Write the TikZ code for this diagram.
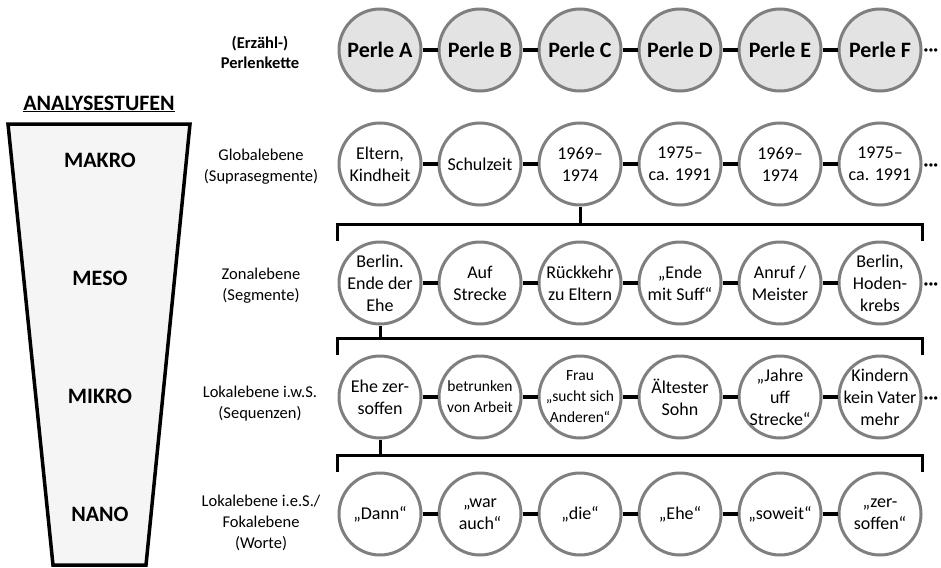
\documentclass[tikz,border=0pt]{standalone}
\usepackage{fontspec}
\setmainfont{Carlito}
\definecolor{perlrand}{HTML}{7F7F7F}
\definecolor{perlfill}{HTML}{E3E3E3}
\definecolor{trichter}{HTML}{F5F5F5}

\begin{document}
\begin{tikzpicture}[x=1pt, y=1pt,
	every node/.style = {align=center, font=\fontsize{18}{22}\selectfont},
	perle/.style = {draw=perlrand, line width=3pt, circle, minimum size=82pt, inner sep=-14pt, fill=white},
	klein/.style = {font=\fontsize{15.5}{21}\selectfont},
	kette/.style = {line width=4.5pt},
	klammer/.style = {line width=3pt},
	stufe/.style = {font=\fontsize{22}{26}\selectfont\bfseries},
	ebene/.style = {font=\fontsize{16.5}{21}\selectfont},
	weiter/.style = {anchor=base west, inner sep=1pt, yshift=-6pt, font=\fontsize{18}{20}\selectfont\bfseries}
]
\useasboundingbox (0,0) rectangle (941,-567);

\draw [line width=3.5pt, fill=trichter] (8,-124) -- (190,-124) -- (146,-565) -- (53,-565) -- cycle;
\node [stufe] (analyse) at (99,-104) {\underline{ANALYSESTUFEN}};
\node [stufe] (makro) at (100,-160) {MAKRO};
\node [stufe] (meso) at (100,-278) {MESO};
\node [stufe] (mikro) at (100,-396) {MIKRO};
\node [stufe] (nano) at (100,-514) {NANO};

\node [ebene, font=\fontsize{16.5}{20}\selectfont\bfseries] (erz) at (260,-52) {(Erzähl-)\\Perlenkette};
\node [ebene] (global) at (261,-167) {Globalebene\\(Suprasegmente)};
\node [ebene] (zonal) at (261,-286) {Zonalebene\\(Segmente)};
\node [ebene] (lokal) at (260,-404) {Lokalebene i.w.S.\\(Sequenzen)};
\node [ebene] (fokal) at (261,-523) {Lokalebene i.e.S./\\Fokalebene\\(Worte)};

\foreach \t [count=\i] in {A,B,C,D,E,F}
	\node [perle, fill=perlfill, font=\fontsize{22}{26}\selectfont\bfseries] (p\i) at (280+100*\i,-50) {Perle \t};

\foreach \t [count=\i] in {{Eltern,\\Kindheit}, Schulzeit, 1969–\\1974, 1975–\\ca. 1991, 1969–\\1974, 1975–\\ca. 1991}
	\node [perle] (g\i) at (280+100*\i,-164) {\t};

\foreach \t [count=\i] in {Berlin.\\Ende der\\Ehe, Auf\\Strecke, Rückkehr\\zu Eltern, „Ende\\mit Suff“, Anruf /\\Meister, {Berlin,\\Hoden-\\krebs}}
	\node [perle] (z\i) at (280+100*\i,-283) {\t};

\node [perle] (s1) at (380,-397) {Ehe zer-\\soffen};
\node [perle, klein] (s2) at (480,-397) {betrunken\\von Arbeit};
\node [perle, klein] (s3) at (580,-397) {Frau\\„sucht sich\\Anderen“};
\node [perle] (s4) at (680,-397) {Ältester\\Sohn};
\node [perle] (s5) at (780,-397) {„Jahre\\uff\\Strecke“};
\node [perle] (s6) at (880,-397) {Kindern\\kein Vater\\mehr};

\foreach \t [count=\i] in {„Dann“, „war\\auch“, „die“, „Ehe“, „soweit“, „zer-\\soffen“}
	\node [perle] (w\i) at (280+100*\i,-514) {\t};

\foreach \r in {p,g,z,s,w}
	\foreach \i [count=\j from 2] in {1,...,5}
		\draw [kette] (\r\i) -- (\r\j);
\foreach \r in {p,g,z,s}
	\node [weiter] (d\r) at (\r6.east) {···};

\draw [klammer] (z1.west |- z1.north) -- ++(0,16) coordinate (k1) -| (z6.east |- z6.north);
\draw [klammer] (g3.south) -- (g3.south |- k1);
\draw [klammer] (s1.west |- s1.north) -- ++(0,16) coordinate (k2) -| (s6.east |- s6.north);
\draw [klammer] (z1.south) -- (z1.south |- k2);
\draw [klammer] (w1.west |- w1.north) -- ++(0,16) coordinate (k3) -| (w6.east |- w6.north);
\draw [klammer] (s1.south) -- (s1.south |- k3);
\end{tikzpicture}
\end{document}
